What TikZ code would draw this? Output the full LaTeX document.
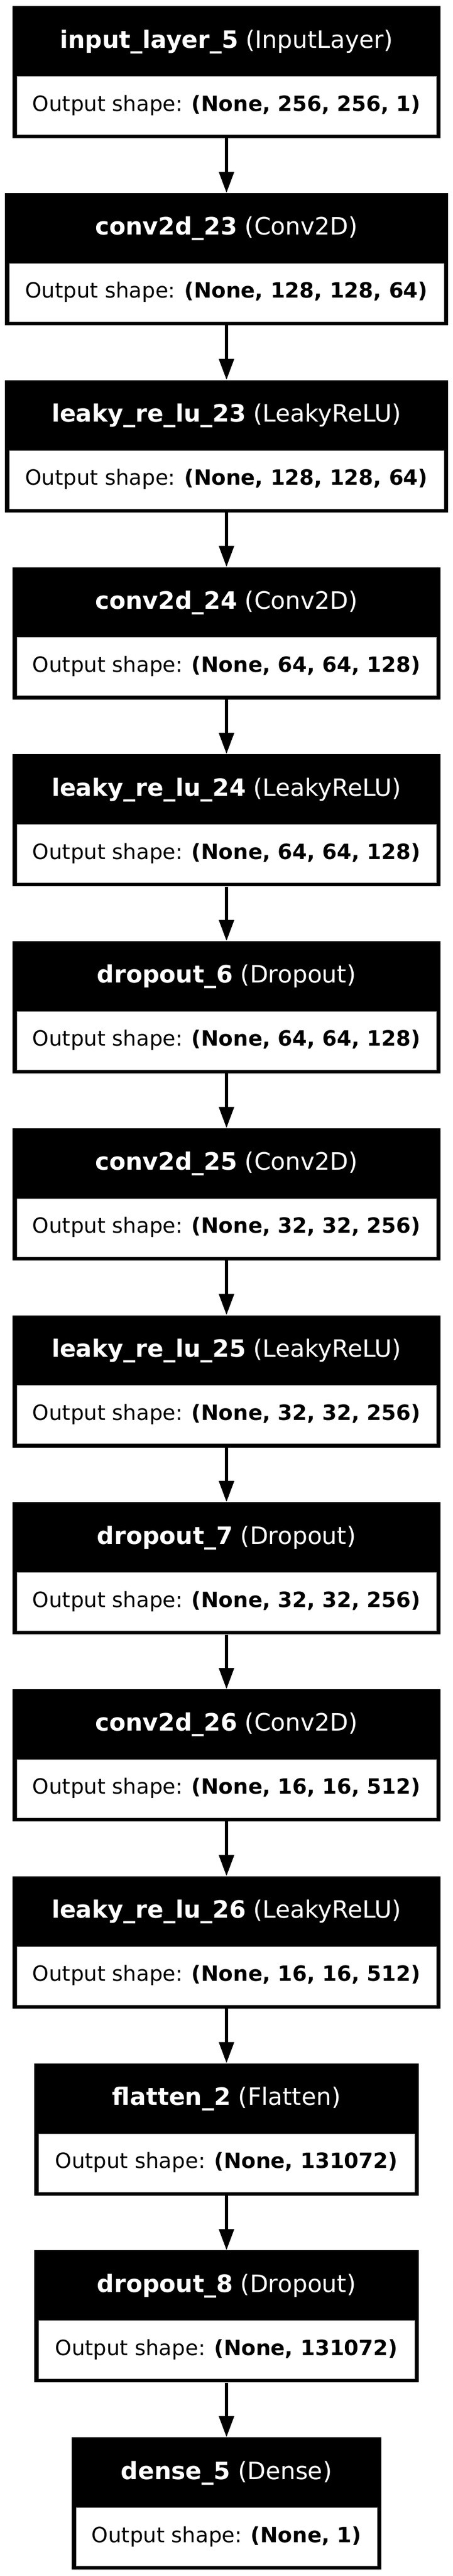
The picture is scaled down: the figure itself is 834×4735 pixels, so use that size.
\documentclass[tikz,border=0pt]{standalone}
\usepackage{fontspec}
\setmainfont{DejaVu Sans}
\usetikzlibrary{arrows.meta}
\begin{document}
\begin{tikzpicture}[x=1pt,y=-1pt,
  outerbox/.style={fill=black, draw=none, inner sep=0pt, minimum height=243pt, anchor=north},
  cellbox/.style={fill=white, draw=gray!70, line width=0.8pt, inner sep=0pt, minimum height=107pt, anchor=north},
  headtxt/.style={text=white, anchor=base, inner sep=0pt, font=\fontsize{44}{52}\selectfont},
  shapetxt/.style={text=black, anchor=base, inner sep=0pt, font=\fontsize{38.7}{46}\selectfont},
  arr/.style={line width=6pt, draw=black, -{Triangle[width=27pt,length=39pt]}}]
\useasboundingbox (0,0) rectangle (834,4735);
\fill[white] (0,0) rectangle (834,4735);
\foreach \i/\hw/\nm/\ty/\sh in {
  1/394/input\_layer\_5/InputLayer/{256, 256, 1},
  2/408/conv2d\_23/Conv2D/{128, 128, 64},
  3/408/leaky\_re\_lu\_23/LeakyReLU/{128, 128, 64},
  4/394/conv2d\_24/Conv2D/{64, 64, 128},
  5/394/leaky\_re\_lu\_24/LeakyReLU/{64, 64, 128},
  6/394/dropout\_6/Dropout/{64, 64, 128},
  7/394/conv2d\_25/Conv2D/{32, 32, 256},
  8/394/leaky\_re\_lu\_25/LeakyReLU/{32, 32, 256},
  9/394/dropout\_7/Dropout/{32, 32, 256},
  10/394/conv2d\_26/Conv2D/{16, 16, 512},
  11/394/leaky\_re\_lu\_26/LeakyReLU/{16, 16, 512},
  12/354/flatten\_2/Flatten/{131072},
  13/354/dropout\_8/Dropout/{131072},
  14/285/dense\_5/Dense/{1}} {
  \pgfmathsetmacro\T{11+343.77*(\i-1)}
  \node[outerbox, minimum width={2*\hw pt}] (b\i) at (417,\T) {};
  \node[cellbox, minimum width={2*\hw pt - 16pt}] (c\i) at (417,\T+129) {};
  \node[headtxt] (h\i) at (417,\T+77) {\textbf{\nm} (\ty)};
  \node[shapetxt] (s\i) at (417,\T+193) {Output shape: \textbf{(None, \sh)}};
}
\foreach \i [evaluate=\i as \j using int(\i+1)] in {1,...,13}
  \draw[arr] (b\i.south) -- (b\j.north);
\end{tikzpicture}
\end{document}
